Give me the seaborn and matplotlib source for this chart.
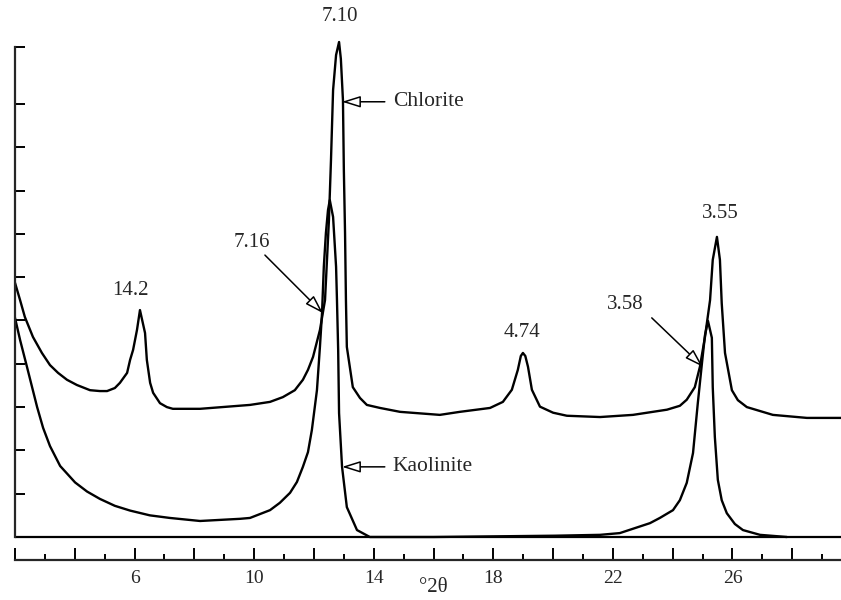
import numpy as np
import pandas as pd
import matplotlib
matplotlib.use("Agg")
import matplotlib.pyplot as plt
import seaborn as sns

# -------------------------------------------------------------
# XRD pattern: chlorite vs. kaolinite
# -------------------------------------------------------------
chlorite_2theta = [2.00, 2.17, 2.33, 2.60, 2.90, 3.17, 3.44, 3.74, 4.07, 4.51,
                   4.84, 5.08, 5.34, 5.51, 5.75, 5.85, 5.95, 6.08, 6.18, 6.35,
                   6.41, 6.52, 6.62, 6.85, 7.08, 7.28, 8.19, 9.86, 10.53, 10.96,
                   11.36, 11.63, 11.80, 11.97, 12.20, 12.37, 12.50, 12.57, 12.64, 12.74,
                   12.84, 12.90, 12.97, 13.00, 13.04, 13.07, 13.10, 13.30, 13.54, 13.77,
                   14.21, 14.88, 16.21, 16.88, 17.89, 18.32, 18.62, 18.82, 18.92, 18.99,
                   19.07, 19.16, 19.29, 19.56, 20.00, 20.46, 21.57, 22.67, 23.81, 24.24,
                   24.47, 24.74, 24.91, 25.08, 25.25, 25.34, 25.48, 25.58, 25.64, 25.75,
                   25.98, 26.18, 26.48, 27.35, 28.49, 29.63]
chlorite_int = [5.87, 5.47, 5.08, 4.62, 4.25, 3.97, 3.79, 3.63, 3.51, 3.39,
                3.37, 3.37, 3.44, 3.56, 3.79, 4.09, 4.32, 4.78, 5.24, 4.71,
                4.09, 3.56, 3.33, 3.09, 3.00, 2.96, 2.96, 3.05, 3.12, 3.23,
                3.39, 3.63, 3.86, 4.16, 4.78, 5.47, 7.30, 8.71, 10.32, 11.13,
                11.43, 11.04, 10.09, 8.48, 7.02, 5.47, 4.39, 3.46, 3.21, 3.05,
                2.98, 2.89, 2.82, 2.89, 2.98, 3.12, 3.40, 3.86, 4.18, 4.25,
                4.18, 3.93, 3.40, 3.01, 2.87, 2.80, 2.77, 2.82, 2.94, 3.03,
                3.17, 3.46, 3.93, 4.62, 5.47, 6.40, 6.93, 6.40, 5.40, 4.25,
                3.39, 3.16, 3.00, 2.82, 2.75, 2.75]

kaolinite_2theta = [2.00, 2.17, 2.40, 2.74, 2.94, 3.17, 3.51, 4.01, 4.41, 4.84,
                    5.34, 5.85, 6.51, 7.18, 8.19, 9.53, 9.86, 10.53, 10.86, 11.20,
                    11.43, 11.63, 11.80, 11.93, 12.10, 12.20, 12.27, 12.33, 12.40, 12.47,
                    12.53, 12.64, 12.74, 12.77, 12.81, 12.84, 12.94, 13.10, 13.44, 13.87,
                    16.00, 20.06, 21.57, 22.23, 23.24, 23.57, 24.01, 24.24, 24.47, 24.68,
                    24.84, 24.98, 25.08, 25.18, 25.31, 25.34, 25.41, 25.51, 25.64, 25.81,
                    26.08, 26.35, 26.92, 27.82]
kaolinite_int = [5.06, 4.55, 3.93, 3.00, 2.52, 2.10, 1.64, 1.26, 1.05, 0.88,
                 0.72, 0.61, 0.50, 0.44, 0.37, 0.42, 0.44, 0.62, 0.79, 1.02,
                 1.27, 1.62, 1.96, 2.47, 3.39, 4.39, 5.17, 6.24, 7.02, 7.55,
                 7.78, 7.39, 6.24, 5.47, 4.32, 2.86, 1.62, 0.69, 0.16, 0.00,
                 0.00, 0.03, 0.05, 0.09, 0.32, 0.44, 0.62, 0.85, 1.25, 1.94,
                 3.09, 4.02, 4.66, 4.99, 4.60, 3.46, 2.31, 1.32, 0.85, 0.55,
                 0.30, 0.16, 0.05, 0.00]

# peak d-spacings (Å) and where their labels sit
peak_labels = ["7.10", "14.2", "4.74", "3.55"]
peak_label_x = [12.87, 5.85, 18.96, 25.58]
peak_label_y = [12.01, 5.70, 4.73, 7.48]

tick_labels = {6: "6", 10: "10", 14: "14", 18: "18", 22: "22", 26: "26"}

df = pd.concat([
    pd.DataFrame({"two_theta": chlorite_2theta, "intensity": chlorite_int, "mineral": "Chlorite"}),
    pd.DataFrame({"two_theta": kaolinite_2theta, "intensity": kaolinite_int, "mineral": "Kaolinite"}),
])

sns.set_theme(style="ticks")
plt.rcParams["font.family"] = ["Liberation Serif", "DejaVu Serif"]

fig = plt.figure(figsize=(8.41, 6.0), dpi=100)
ax = fig.add_axes([15 / 841, 40 / 600, 826 / 841, 560 / 600])

sns.lineplot(data=df, x="two_theta", y="intensity", hue="mineral", units="mineral",
             estimator=None, palette=["black", "black"], linewidth=1.7,
             legend=False, ax=ax)

# zero line under the traces
ax.axhline(0, color="black", linewidth=1.6)

ax.set_xlim(2, 29.63)
ax.set_ylim(-0.531, 12.40)

for side in ["top", "right"]:
    ax.spines[side].set_visible(False)
ax.spines["left"].set_bounds(0, 11.32)
ax.spines["left"].set_linewidth(1.6)
ax.spines["bottom"].set_linewidth(1.6)

ax.set_yticks(list(range(0, 11)) + [11.32])
ax.set_yticklabels([])
ax.tick_params(axis="y", direction="in", length=7, width=1.4, color="black")

major = list(range(2, 30, 2))
ax.set_xticks(major)
ax.set_xticklabels([tick_labels.get(v, "") for v in major], fontsize=14)
ax.set_xticks(list(range(3, 30, 2)), minor=True)
ax.tick_params(axis="x", which="major", direction="in", length=9, width=1.4, pad=7, color="black")
ax.tick_params(axis="x", which="minor", direction="in", length=4, width=1.4, color="black")

ax.set_xlabel("")
ax.set_ylabel("")
fig.text(433 / 841, 1 - 588 / 600, "°2θ", ha="center", va="center", fontsize=15)

for lab, lx, ly in zip(peak_labels, peak_label_x, peak_label_y):
    ax.text(lx, ly, lab, ha="center", va="center", fontsize=15)

arrow = dict(arrowstyle="-|>,head_length=0.8,head_width=0.25", fc="white", ec="black",
             lw=1.1, mutation_scale=14, shrinkA=0, shrinkB=0)

ax.annotate("", xy=(12.94, 10.05), xytext=(14.37, 10.05), arrowprops=arrow)
ax.text(14.64, 10.05, "Chlorite", ha="left", va="center", fontsize=15.5)
ax.annotate("", xy=(12.94, 1.62), xytext=(14.37, 1.62), arrowprops=arrow)
ax.text(14.64, 1.62, "Kaolinite", ha="left", va="center", fontsize=15.5)

ax.annotate("", xy=(12.30, 5.17), xytext=(10.36, 6.51), arrowprops=arrow)
ax.text(9.93, 6.79, "7.16", ha="center", va="center", fontsize=15)
ax.annotate("", xy=(25.01, 3.93), xytext=(23.30, 5.06), arrowprops=arrow)
ax.text(22.40, 5.36, "3.58", ha="center", va="center", fontsize=15)

fig.savefig("out.png", dpi=100)
